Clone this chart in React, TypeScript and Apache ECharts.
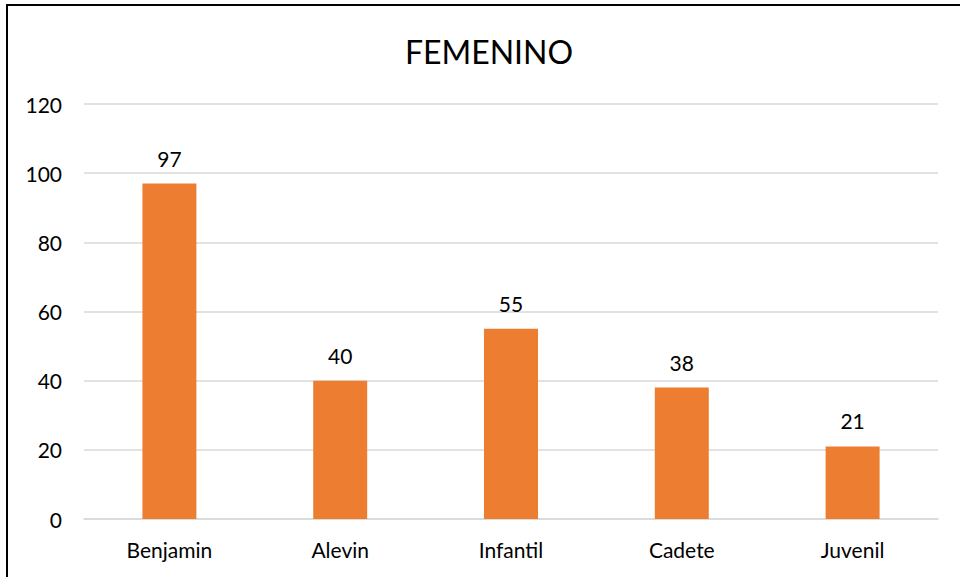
import React, { useEffect, useRef } from "react";
import * as echarts from "echarts";

const categories = ["Benjamin", "Alevin", "Infantil", "Cadete", "Juvenil"];
const values = [97, 40, 55, 38, 21];
const chartTitle = "FEMENINO";

export default function App() {
  const ref = useRef<HTMLDivElement>(null);
  useEffect(() => {
    if (!ref.current) return;
    const chart = echarts.init(ref.current, undefined, { renderer: "svg" });
    const font = "Lato, 'Open Sans', sans-serif";
    chart.setOption({
      animation: false,
      backgroundColor: "#ffffff",
      title: {
        text: chartTitle,
        left: 484,
        textAlign: "center",
        top: 30,
        textStyle: { fontFamily: font, fontSize: 32, fontWeight: "normal", color: "#000" },
      },
      graphic: [
        {
          type: "rect",
          shape: { x: 7, y: 5, width: 1000, height: 700 },
          style: { fill: "none", stroke: "#000", lineWidth: 2 },
          silent: true,
        },
      ],
      grid: { left: 84, right: 22, top: 104, bottom: 58, containLabel: false },
      xAxis: {
        type: "category",
        data: categories,
        axisLine: { lineStyle: { color: "#d9d9d9", width: 1.5 } },
        axisTick: { show: false },
        axisLabel: { fontFamily: font, fontSize: 21, color: "#000", margin: 20 },
      },
      yAxis: {
        type: "value",
        min: 0,
        max: 120,
        interval: 20,
        axisLine: { show: false },
        axisTick: { show: false },
        splitLine: { lineStyle: { color: "#d9d9d9", width: 1.5 } },
        axisLabel: { fontFamily: font, fontSize: 21, color: "#000", margin: 22 },
      },
      series: [
        {
          type: "bar",
          data: values,
          barWidth: "31.6%",
          itemStyle: { color: "#ED7D31" },
          label: {
            show: true,
            position: "top",
            distance: 15,
            fontFamily: font,
            fontSize: 21,
            color: "#000",
          },
        },
      ],
    });
    return () => chart.dispose();
  }, []);
  return (
    <div
      ref={ref}
      style={{ position: "fixed", left: 0, top: 0, width: 960, height: 577 }}
    />
  );
}
